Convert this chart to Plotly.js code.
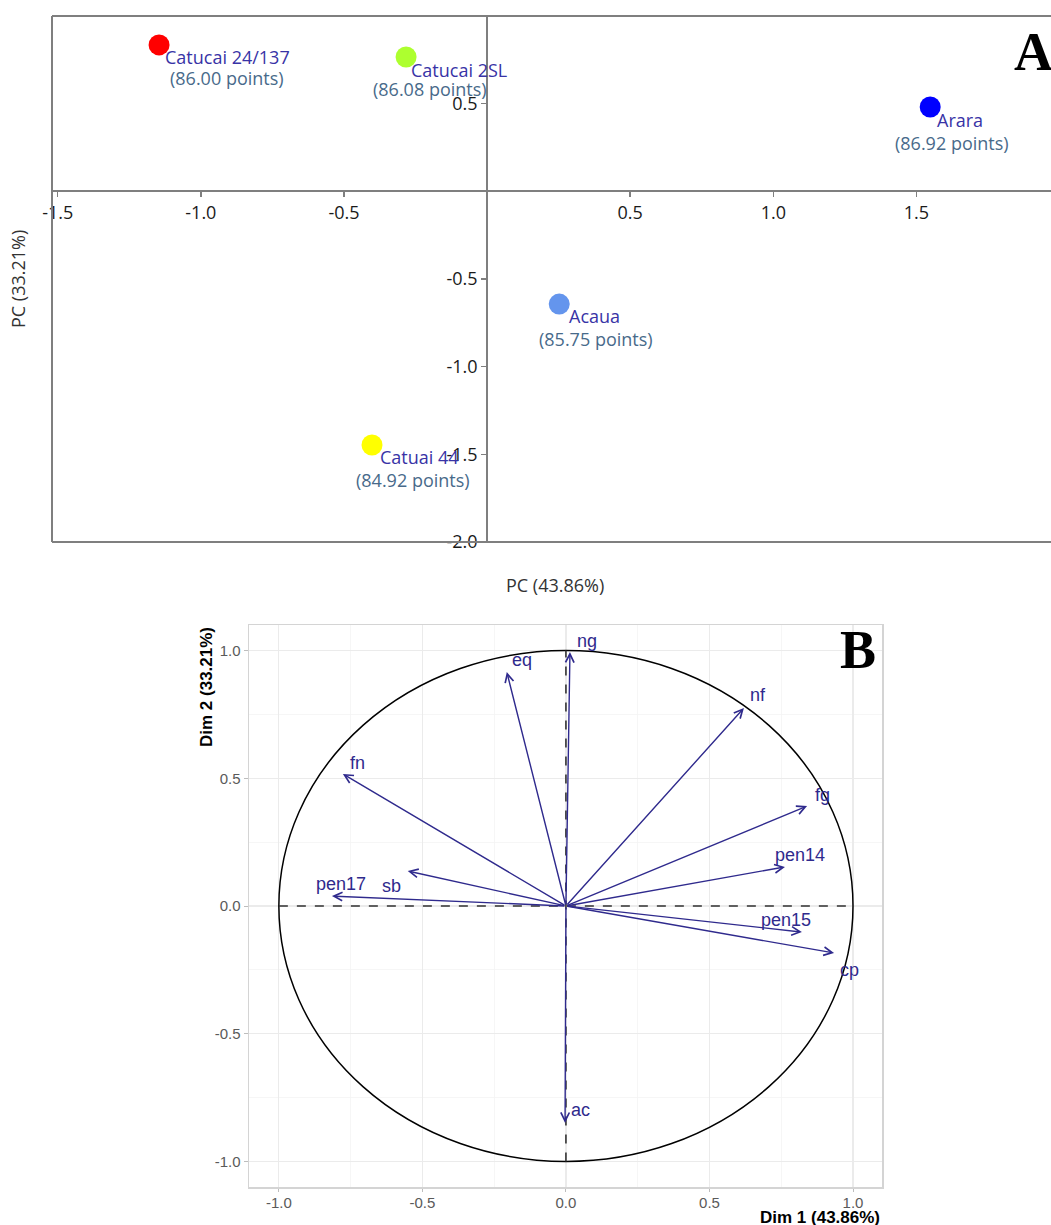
<!DOCTYPE html>
<html>
<head>
<meta charset="utf-8">
<script src="https://cdn.plot.ly/plotly-3.0.1.min.js"></script>
<style>
  html, body { margin: 0; padding: 0; background: #ffffff; }
  #chart { width: 1051px; height: 1225px; }
</style>
</head>
<body>
<div id="chart"></div>
<script>
// ---------- DATA ----------
// Panel A: cultivar scores on PC1 / PC2
const cultivars = ["Catucai 24/137", "Catucai 2SL", "Arara", "Acaua", "Catuai 44"];
const pc1 = [-1.146, -0.283, 1.548, 0.252, -0.402];
const pc2 = [0.835, 0.766, 0.481, -0.643, -1.447];
const cupScores = [86.00, 86.08, 86.92, 85.75, 84.92];
const xTicksA = [-1.5, -1.0, -0.5, 0.5, 1.0, 1.5];
const yTicksA = [0.5, -0.5, -1.0, -1.5, -2.0];

// Panel B: variable loadings on Dim 1 / Dim 2
const variables = ["ng", "eq", "fn", "sb", "pen17", "nf", "fg", "pen14", "pen15", "cp", "ac"];
const dim1 = [0.014, -0.206, -0.777, -0.551, -0.815, 0.620, 0.840, 0.763, 0.822, 0.934, -0.003];
const dim2 = [0.994, 0.916, 0.517, 0.137, 0.039, 0.775, 0.391, 0.153, -0.102, -0.184, -0.849];
const ticksB = [-1.0, -0.5, 0.0, 0.5, 1.0];
const minorTicksB = [-0.75, -0.25, 0.25, 0.75];

// ---------- STYLE / LAYOUT ----------
const W = 1051, H = 1225;
const px = v => v / W;
const py = v => 1 - v / H;

const pointColors = ["#FF0000", "#ADFF2F", "#0000FF", "#6495ED", "#FFFF00"];
// label offsets in pixels relative to each point: [name dx, name dy, score dx, score dy]
const labelOffsetsA = [
  [4, -12, 68, -33],
  [3, -13, 24, -32],
  [5, -13, 22, -36],
  [8, -12, 37, -35],
  [6, -12, 41, -35]
];
// label offsets for panel B (pixels relative to arrow head)
const labelOffsetsB = [
  [17, 11], [15, 12], [15, 11], [-16, -15], [9, 12],
  [14, 13], [15, 11], [15, 12], [-16, 12], [15, -17], [15, 13]
];

const fontA = "Open Sans, Noto Sans, sans-serif";
const fontB = "Liberation Sans, Arial, sans-serif";
const nameColor = "#3833A6";
const scoreColor = "#486A8A";
const arrowColor = "#2F2A8D";
const frameColor = "#7F7F7F";

const xDomA = [px(52), 1];
const yDomA = [py(542), py(16)];
const xRangeA = [-1.52, 1.97];
const yRangeA = [-2.0, 1.0];
const xZeroPos = yDomA[0] + (0 - yRangeA[0]) / (yRangeA[1] - yRangeA[0]) * (yDomA[1] - yDomA[0]);
const yZeroPos = xDomA[0] + (0 - xRangeA[0]) / (xRangeA[1] - xRangeA[0]) * (xDomA[1] - xDomA[0]);

const xDomB = [px(249), px(882)];
const yDomB = [py(1187), py(625)];
const xRangeB = [-1.104, 1.101];
const yRangeB = [-1.1, 1.1];

const fmt = v => v.toFixed(1);

// ---------- TRACES ----------
const traceA = {
  type: "scatter", mode: "markers",
  x: pc1, y: pc2, xaxis: "x", yaxis: "y",
  marker: { size: 21, color: pointColors, line: { width: 0 } },
  hoverinfo: "text", text: cultivars, showlegend: false, cliponaxis: false
};
const traceB = {
  type: "scatter", mode: "markers",
  x: dim1, y: dim2, xaxis: "x2", yaxis: "y2",
  marker: { size: 1, opacity: 0 }, hoverinfo: "text", text: variables, showlegend: false
};

// ---------- ANNOTATIONS ----------
const annotations = [];
cultivars.forEach((name, i) => {
  const o = labelOffsetsA[i];
  annotations.push({
    xref: "x", yref: "y", x: pc1[i], y: pc2[i], text: name, showarrow: false,
    xanchor: "left", yanchor: "middle", xshift: o[0], yshift: o[1],
    font: { family: fontA, size: 18, color: nameColor }
  });
  annotations.push({
    xref: "x", yref: "y", x: pc1[i], y: pc2[i],
    text: "(" + cupScores[i].toFixed(2) + " points)", showarrow: false,
    xanchor: "center", yanchor: "middle", xshift: o[2], yshift: o[3],
    font: { family: fontA, size: 18, color: scoreColor }
  });
});
variables.forEach((v, i) => {
  annotations.push({
    xref: "x2", yref: "y2", x: dim1[i], y: dim2[i],
    axref: "x2", ayref: "y2", ax: 0, ay: 0,
    text: "", showarrow: true, arrowhead: 5, arrowsize: 1.2, arrowwidth: 1.4,
    arrowcolor: arrowColor, standoff: 0, startstandoff: 0
  });
  const o = labelOffsetsB[i];
  annotations.push({
    xref: "x2", yref: "y2", x: dim1[i], y: dim2[i], text: v, showarrow: false,
    xanchor: "center", yanchor: "middle", xshift: o[0], yshift: o[1],
    font: { family: fontB, size: 18, color: arrowColor }
  });
});
// axis titles & panel letters
annotations.push(
  { xref: "paper", yref: "paper", x: px(18), y: py(279), text: "PC (33.21%)", textangle: -90,
    showarrow: false, xanchor: "center", yanchor: "middle",
    font: { family: fontA, size: 18, color: "#333333" } },
  { xref: "paper", yref: "paper", x: px(555), y: py(585), text: "PC (43.86%)",
    showarrow: false, xanchor: "center", yanchor: "middle",
    font: { family: fontA, size: 18, color: "#333333" } },
  { xref: "paper", yref: "paper", x: px(1012), y: py(52), text: "<b>A</b>",
    showarrow: false, xanchor: "left", yanchor: "middle",
    font: { family: "Liberation Serif, Times New Roman, serif", size: 54, color: "#000000" } },
  { xref: "paper", yref: "paper", x: px(882), y: py(1217), text: "<b>Dim 1 (43.86%)</b>",
    showarrow: false, xanchor: "right", yanchor: "middle",
    font: { family: fontB, size: 17, color: "#000000" } },
  { xref: "paper", yref: "paper", x: px(206), y: py(625), text: "<b>Dim 2 (33.21%)</b>", textangle: -90,
    showarrow: false, xanchor: "center", yanchor: "top",
    font: { family: fontB, size: 17, color: "#000000" } },
  { xref: "paper", yref: "paper", x: px(858), y: py(650), text: "<b>B</b>",
    showarrow: false, xanchor: "center", yanchor: "middle",
    font: { family: "Liberation Serif, Times New Roman, serif", size: 54, color: "#000000" } }
);

// ---------- SHAPES ----------
const shapes = [
  // frame of panel A (left, top, bottom; right side runs off the page)
  { type: "line", xref: "paper", yref: "paper", x0: px(52), x1: px(52), y0: yDomA[0], y1: yDomA[1],
    line: { color: frameColor, width: 2 } },
  { type: "line", xref: "paper", yref: "paper", x0: px(52), x1: 1.01, y0: yDomA[1], y1: yDomA[1],
    line: { color: frameColor, width: 2 } },
  { type: "line", xref: "paper", yref: "paper", x0: px(52), x1: 1.01, y0: yDomA[0], y1: yDomA[0],
    line: { color: frameColor, width: 2 } },
  // correlation circle
  { type: "circle", xref: "x2", yref: "y2", x0: -1, x1: 1, y0: -1, y1: 1,
    line: { color: "#000000", width: 1.5 }, layer: "above" },
  // dashed reference lines
  { type: "line", xref: "x2", yref: "y2", x0: -1, x1: 1, y0: 0, y1: 0,
    line: { color: "#333333", width: 1.6, dash: "dash" }, layer: "above" },
  { type: "line", xref: "x2", yref: "y2", x0: 0, x1: 0, y0: -1, y1: 1,
    line: { color: "#333333", width: 1.6, dash: "dash" }, layer: "above" }
];

// ---------- LAYOUT ----------
const layout = {
  width: W, height: H,
  margin: { l: 0, r: 0, t: 0, b: 0, pad: 0 },
  paper_bgcolor: "#ffffff", plot_bgcolor: "rgba(0,0,0,0)",
  showlegend: false,
  xaxis: {
    domain: xDomA, range: xRangeA, anchor: "free", position: xZeroPos,
    showline: true, linecolor: frameColor, linewidth: 2,
    ticks: "outside", ticklen: 5, tickwidth: 1.5, tickcolor: frameColor,
    tickmode: "array", tickvals: xTicksA, ticktext: xTicksA.map(fmt),
    tickfont: { family: fontA, size: 18, color: "#1a1a1a" },
    showgrid: false, zeroline: false, fixedrange: true
  },
  yaxis: {
    domain: yDomA, range: yRangeA, anchor: "free", position: yZeroPos,
    showline: true, linecolor: frameColor, linewidth: 2,
    ticks: "outside", ticklen: 5, tickwidth: 1.5, tickcolor: frameColor,
    tickmode: "array", tickvals: yTicksA, ticktext: yTicksA.map(fmt),
    tickfont: { family: fontA, size: 18, color: "#1a1a1a" },
    showgrid: false, zeroline: false, fixedrange: true
  },
  xaxis2: {
    domain: xDomB, range: xRangeB, anchor: "y2",
    showline: true, mirror: true, linecolor: "#D4D4D4", linewidth: 1.5,
    ticks: "outside", ticklen: 3, tickcolor: "#BDBDBD", ticklabelstandoff: -2,
    tickmode: "array", tickvals: ticksB, ticktext: ticksB.map(fmt),
    tickfont: { family: fontB, size: 15, color: "#5a5a5a" },
    showgrid: true, gridcolor: "#EBEBEB", gridwidth: 1.2,
    minor: { tickvals: minorTicksB, showgrid: true, gridcolor: "#F4F4F4", gridwidth: 0.8 },
    zeroline: false, fixedrange: true
  },
  yaxis2: {
    domain: yDomB, range: yRangeB, anchor: "x2",
    showline: true, mirror: true, linecolor: "#D4D4D4", linewidth: 1.5,
    ticks: "outside", ticklen: 4, tickcolor: "#BDBDBD",
    tickmode: "array", tickvals: ticksB, ticktext: ticksB.map(fmt),
    tickfont: { family: fontB, size: 15, color: "#5a5a5a" },
    showgrid: true, gridcolor: "#EBEBEB", gridwidth: 1.2,
    minor: { tickvals: minorTicksB, showgrid: true, gridcolor: "#F4F4F4", gridwidth: 0.8 },
    zeroline: false, fixedrange: true
  },
  annotations: annotations,
  shapes: shapes
};

Plotly.newPlot("chart", [traceB, traceA], layout, { displayModeBar: false, staticPlot: true });
</script>
</body>
</html>
